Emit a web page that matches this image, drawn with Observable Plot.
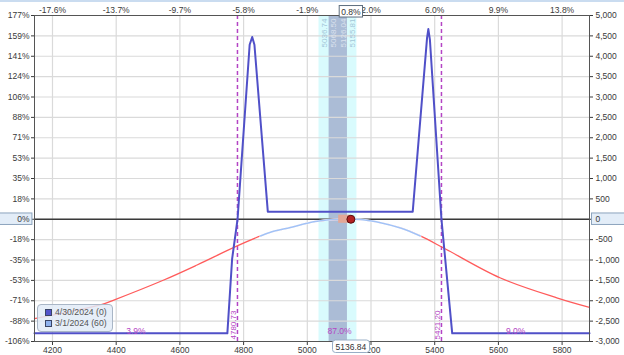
<!DOCTYPE html>
<html><head><meta charset="utf-8">
<script src="https://cdn.jsdelivr.net/npm/d3@7"></script>
<script src="https://cdn.jsdelivr.net/npm/@observablehq/plot@0.6"></script>
<style>
body{margin:0;background:#fff;}
#chart{position:relative;width:624px;height:355px;overflow:hidden;}
#legend{position:absolute;left:37px;top:304px;width:74px;height:24px;border:1px solid #a9b6c6;border-radius:4px;background:rgba(226,235,247,0.85);font:8.7px 'Liberation Sans',Arial,sans-serif;color:#555;padding-top:2px;box-sizing:content-box;}
#legend .row{height:11px;line-height:11px;white-space:nowrap;padding-left:7px;}
#legend .sw{display:inline-block;width:5px;height:5px;border:1px solid #3a4566;margin-right:3px;vertical-align:-0.5px;}
</style></head><body><div id="chart"></div>
<script>
// ---- data ----
const xTicks = [4200, 4400, 4600, 4800, 5000, 5200, 5400, 5600, 5800];
const topTickLabels = ["-17.6%", "-13.7%", "-9.7%", "-5.8%", "-1.9%", "2.0%", "6.0%", "9.9%", "13.8%"];
const yTicks = [-3000, -2500, -2000, -1500, -1000, -500, 0, 500, 1000, 1500, 2000, 2500, 3000, 3500, 4000, 4500, 5000];
const leftTickLabels = ["-106%", "-88%", "-71%", "-53%", "-35%", "-18%", "0%", "18%", "35%", "53%", "71%", "88%", "106%", "124%", "141%", "159%", "177%"];

const expirationPrice = [4143.5, 4749, 4764, 4781, 4819, 4827, 4834, 4876, 5331, 5376, 5380, 5385, 5421.2, 5455, 5886];
const expirationPL    = [-2800, -2800, -970, 0, 4283, 4472, 4283, 187, 187, 4450, 4668, 4400, 0, -2800, -2800];

const t0Price = [4143.5, 4356, 4392.5, 4549.5, 4654, 4774.6, 4853, 4884.5, 4947, 5025.7, 5104, 5167, 5229.8, 5292.6, 5355, 5433.9, 5606.6, 5785.6, 5886];
const t0PL    = [-2437, -2088, -1983, -1491, -1123, -673, -410, -319, -201, -54, 0, -7, -84, -214, -410, -730, -1442, -1934, -2162];
const t0ColorSplit = [4853, 5355];

const outerBand = [5036.74, 5155.81];
const innerBand = [5068.50, 5126.04];
const breakevens = [4780.73, 5421.20];
const probLabels = ["3.9%", "87.0%", "9.0%"];
const probPrice = [4462, 5101, 5654];
const currentPrice = 5136.84;
const previousPrice = 5098.50;
const currentPctLabel = "0.8%";
const legendLabels = ["4/30/2024 (0)", "3/1/2024 (60)"];
const legendColors = ["#5353cc", "#8fb2ee"];

// ---- build ----
const exp = expirationPrice.map((x, i) => ({x, y: expirationPL[i]}));
const t0 = t0Price.map((x, i) => ({x, y: t0PL[i]}));
const [splitLo, splitHi] = t0ColorSplit;
const t0Mid = t0.filter(d => d.x >= splitLo && d.x <= splitHi);
const probs = probLabels.map((t, i) => ({t, x: probPrice[i]}));
const fmt2 = d3.format(".2f");
const fmtRight = d => (d < 0 ? "-" : "") + d3.format(",")(Math.abs(d));
const purple = "#b444c4";
const red = "#ff5b5b", lightBlue = "#a2c2f6";

const bandLabelMarks = [
  {v: outerBand[0], dx: 5, fill: "#a3c6d8"},
  {v: innerBand[0], dx: 4.5, fill: "#dbe2ee"},
  {v: innerBand[1], dx: -4.5, fill: "#dbe2ee"},
  {v: outerBand[1], dx: -4.5, fill: "#a3c6d8"}
].map(s => Plot.text([s.v], {x: d => d, frameAnchor: "top", dy: 3, dx: s.dx, rotate: -90,
  textAnchor: "end", lineAnchor: "middle", text: d => fmt2(d), fill: s.fill, fontSize: 8}));

const plot = Plot.plot({
  width: 624, height: 355,
  marginLeft: 34, marginRight: 35, marginTop: 15, marginBottom: 14,
  x: {domain: [4143.5, 5886], label: null},
  y: {domain: [-3000, 5000], label: null},
  style: {fontFamily: "'Liberation Sans', Arial, sans-serif", fontSize: "8.5px", color: "#3a3a3a",
    background: "linear-gradient(#cadcf0 0, #cadcf0 2px, #ffffff 2px)", overflow: "visible"},
  marks: [
    Plot.rect([outerBand], {x1: d => d[0], x2: d => d[1], fill: "#d9fbfd"}),
    Plot.rect([innerBand], {x1: d => d[0], x2: d => d[1], fill: "#abbcd6"}),
    Plot.gridX(xTicks, {stroke: "#dadada", strokeOpacity: 1, strokeWidth: 1.2}),
    Plot.gridY(yTicks, {stroke: "#dadada", strokeOpacity: 1, strokeWidth: 1.2}),
    Plot.ruleY([0], {stroke: "#3a3a3a", strokeWidth: 1.3}),
    Plot.ruleX(breakevens, {stroke: purple, strokeDasharray: "4,3", strokeWidth: 1.5}),
    Plot.line(t0, {x: "x", y: "y", stroke: red, strokeWidth: 1.3, curve: "catmull-rom"}),
    Plot.line(t0Mid, {x: "x", y: "y", stroke: "#ffffff", strokeWidth: 2.2, curve: "catmull-rom"}),
    Plot.line(t0Mid, {x: "x", y: "y", stroke: lightBlue, strokeWidth: 1.5, curve: "catmull-rom"}),
    Plot.line(exp, {x: "x", y: "y", stroke: "#5050c8", strokeWidth: 2}),
    Plot.rect([{a: previousPrice, b: currentPrice}], {x1: "a", x2: "b", y1: () => -100, y2: () => 100, fill: "#e3a797"}),
    Plot.dot([{x: currentPrice, y: 0}], {x: "x", y: "y", r: 4, fill: "#b42222", stroke: "#5a0e0e", strokeWidth: 1}),
    ...bandLabelMarks,
    Plot.text(breakevens, {x: d => d, frameAnchor: "bottom", dy: -2, dx: -4.5, rotate: -90, textAnchor: "start",
      lineAnchor: "middle", text: d => fmt2(d), fill: purple, fontSize: 8}),
    Plot.text(probs, {x: "x", y: () => -2800, dy: -2.5, text: "t", fill: purple, fontSize: 8.5}),
    Plot.axisX(xTicks, {anchor: "bottom", tickSize: 4, tickPadding: 1, tickFormat: d => String(d), label: null}),
    Plot.axisX(xTicks, {anchor: "top", tickSize: 0, tickPadding: 3, tickFormat: d => topTickLabels[xTicks.indexOf(d)], label: null}),
    Plot.axisY(yTicks, {anchor: "left", tickSize: 3, tickPadding: 2, tickFormat: d => leftTickLabels[yTicks.indexOf(d)], label: null}),
    Plot.axisY(yTicks, {anchor: "right", tickSize: 3, tickPadding: 3, tickFormat: fmtRight, label: null}),
    Plot.frame({stroke: "#555"}),
    Plot.text([currentPctLabel], {x: () => currentPrice, frameAnchor: "top", dy: -7, text: d => d, fill: "#333"}),
    Plot.text([currentPrice], {x: d => d, frameAnchor: "bottom", dy: 8, text: d => fmt2(d), fill: "#333"})
  ]
});

const chart = document.getElementById("chart");
chart.appendChild(plot);
const ns = "http://www.w3.org/2000/svg";

// boxed labels (zero labels and current price labels)
const boxSpecs = {
  "0%": {padL: 18, padR: 2, padT: 1, padB: 0.5, rx: 0, fill: "#e3edf8", stroke: "#8ca4be"},
  "0": {padL: 4, padR: 30, padT: 1, padB: 0.5, rx: 0, fill: "#e3edf8", stroke: "#8ca4be"},
  "0.8%": {padL: 2, padR: 1.5, padT: 1, padB: 0.5, rx: 0, fill: "#ffffff", stroke: "#5d6d7e"},
  "5136.84": {padL: 3, padR: 3, padT: 1.5, padB: 1, rx: 3, fill: "#ffffff", stroke: "#98aec6"}
};
plot.querySelectorAll("text").forEach(t => {
  const s = boxSpecs[t.textContent];
  if (!s) return;
  const b = t.getBBox();
  const r = document.createElementNS(ns, "rect");
  r.setAttribute("x", b.x - s.padL);
  r.setAttribute("y", b.y - s.padT);
  r.setAttribute("width", b.width + s.padL + s.padR);
  r.setAttribute("height", b.height + s.padT + s.padB);
  r.setAttribute("rx", s.rx);
  r.setAttribute("fill", s.fill);
  r.setAttribute("stroke", s.stroke);
  r.setAttribute("stroke-width", 1);
  if (t.getAttribute("transform")) r.setAttribute("transform", t.getAttribute("transform"));
  t.parentNode.insertBefore(r, t);
});

// legend overlay
const legend = document.createElement("div");
legend.id = "legend";
legendLabels.forEach((lab, i) => {
  const row = document.createElement("div");
  row.className = "row";
  const sw = document.createElement("span");
  sw.className = "sw";
  sw.style.background = legendColors[i];
  row.appendChild(sw);
  row.appendChild(document.createTextNode(lab));
  legend.appendChild(row);
});
chart.appendChild(legend);
</script>
</body></html>
